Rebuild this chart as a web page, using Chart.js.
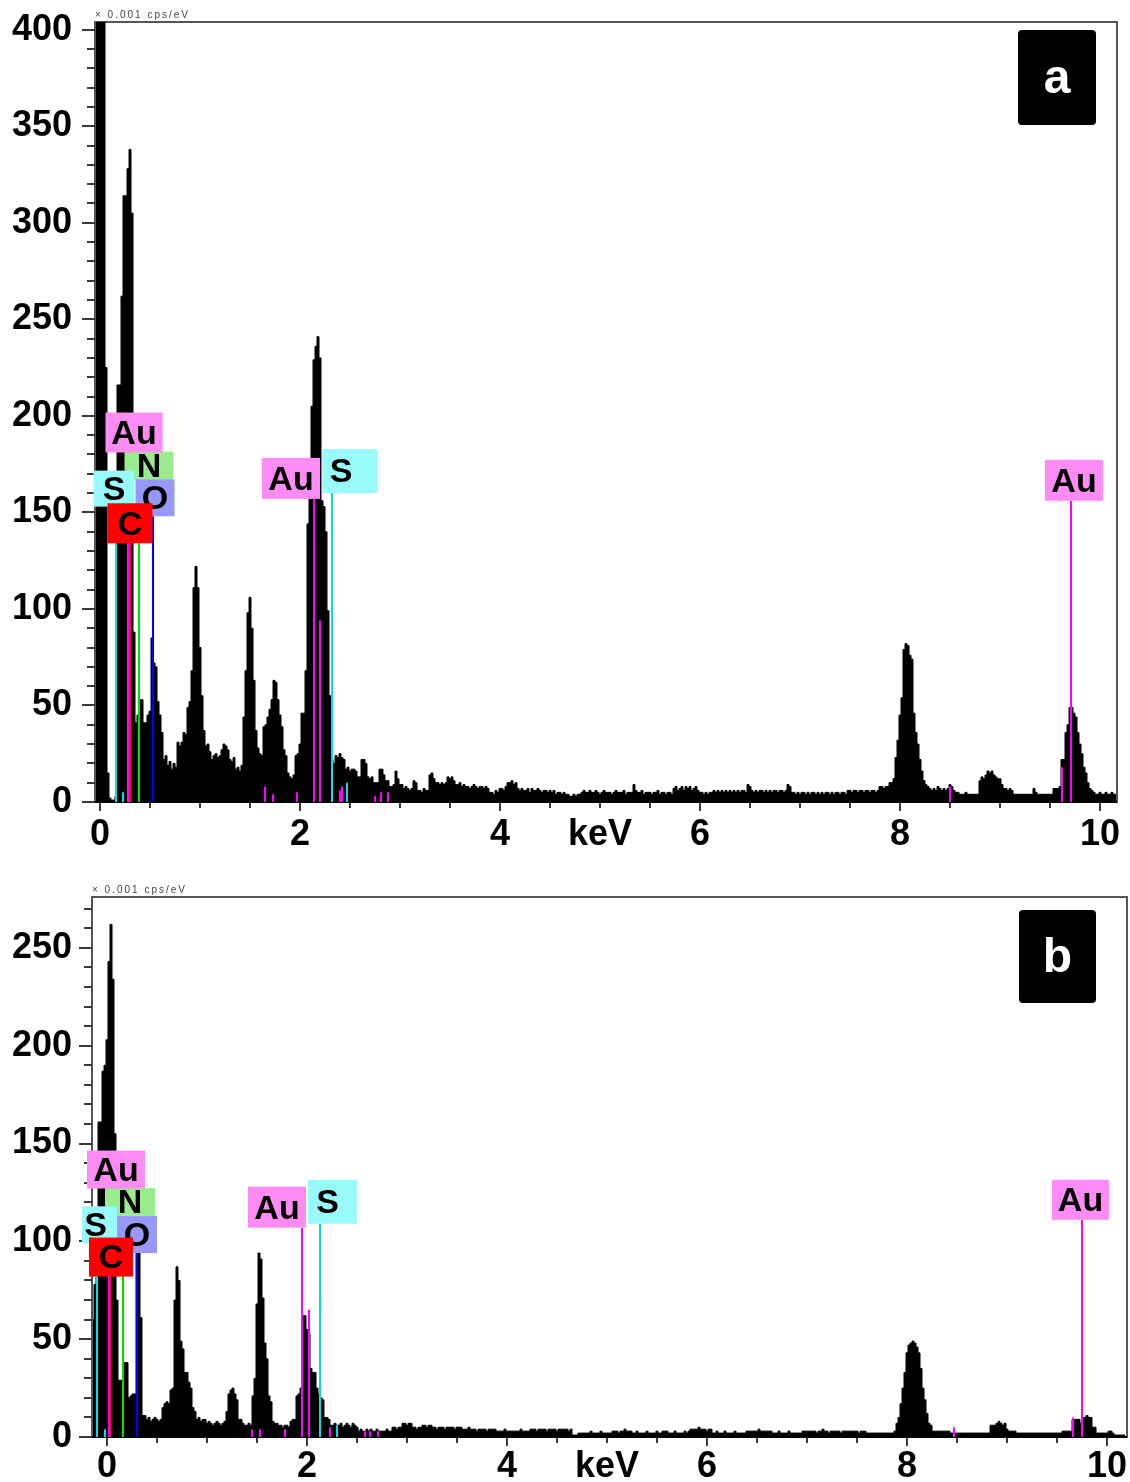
<!DOCTYPE html>
<html>
<head>
<meta charset="utf-8">
<title>EDS spectra</title>
<script src="https://cdn.jsdelivr.net/npm/chart.js@4.4.1/dist/chart.umd.min.js"></script>
<style>
  body { margin: 0; background: #fff; }
  .panel { position: absolute; left: 0; width: 1130px; }
  #panelA { top: 0; height: 870px; }
  #panelB { top: 870px; height: 612px; }
</style>
</head>
<body>
<div class="panel" id="panelA"><canvas id="chartA" width="1130" height="870"></canvas></div>
<div class="panel" id="panelB"><canvas id="chartB" width="1130" height="612"></canvas></div>
<script>
// both spectra are binned at 20 eV per channel
const CHANNEL = 0.02;

// spectrum a, counts in units of 0.001 cps/eV, first channel at -0.04 keV
const startA = -0.04;
const countsA = [
  420, 420, 420, 420, 420, 225, 15, 2, 1, 1,
  3, 216, 216, 262, 314, 314, 328, 338, 305, 88,
  41, 45, 53, 53, 41, 41, 45, 47, 85, 72,
  70, 52, 45, 36, 22, 24, 19, 21, 17, 20,
  18, 31, 29, 31, 36, 35, 49, 52, 68, 111,
  122, 111, 80, 55, 37, 29, 30, 26, 22, 24,
  25, 23, 24, 27, 30, 29, 27, 22, 21, 23,
  17, 18, 16, 19, 44, 68, 98, 106, 90, 63,
  37, 28, 25, 24, 39, 40, 44, 48, 53, 63,
  62, 53, 45, 39, 27, 24, 15, 13, 12, 14,
  24, 25, 30, 46, 46, 68, 144, 160, 205, 229,
  236, 241, 230, 156, 153, 140, 99, 55, 22, 20,
  24, 23, 25, 23, 22, 17, 18, 16, 17, 17,
  16, 13, 13, 22, 22, 20, 13, 12, 13, 10,
  10, 10, 17, 17, 14, 11, 11, 8, 8, 9,
  16, 12, 9, 9, 7, 8, 7, 6, 7, 11,
  10, 6, 6, 5, 7, 6, 6, 14, 15, 12,
  10, 10, 9, 10, 9, 10, 13, 12, 13, 11,
  9, 9, 10, 8, 9, 8, 8, 7, 8, 9,
  8, 7, 8, 8, 7, 8, 7, 5, 5, 4,
  6, 5, 7, 7, 6, 8, 10, 10, 11, 9,
  10, 7, 6, 7, 6, 6, 7, 5, 7, 6,
  6, 7, 6, 5, 6, 6, 5, 6, 5, 6,
  4, 5, 5, 4, 5, 4, 4, 3, 3, 4,
  3, 4, 4, 5, 6, 5, 5, 6, 5, 5,
  6, 5, 4, 5, 6, 5, 5, 5, 4, 5,
  6, 5, 5, 5, 6, 4, 5, 5, 5, 9,
  6, 5, 5, 6, 4, 5, 5, 5, 4, 5,
  5, 6, 4, 5, 5, 4, 5, 5, 4, 7,
  8, 6, 7, 8, 6, 8, 7, 8, 6, 7,
  8, 6, 5, 5, 4, 5, 4, 5, 5, 6,
  5, 6, 5, 6, 5, 6, 5, 6, 5, 6,
  5, 6, 5, 6, 6, 5, 9, 8, 6, 5,
  6, 5, 6, 6, 5, 6, 5, 6, 5, 6,
  6, 5, 6, 6, 5, 6, 9, 8, 5, 5,
  4, 5, 4, 5, 5, 4, 5, 4, 5, 5,
  4, 5, 4, 5, 4, 5, 5, 4, 5, 4,
  5, 5, 4, 5, 5, 4, 6, 6, 5, 6,
  6, 5, 6, 6, 5, 6, 6, 5, 6, 6,
  5, 6, 8, 8, 7, 8, 8, 10, 10, 12,
  23, 32, 45, 54, 79, 82, 81, 76, 74, 46,
  36, 30, 22, 16, 11, 9, 8, 7, 6, 7,
  6, 8, 7, 6, 7, 6, 7, 9, 8, 6,
  5, 5, 4, 4, 4, 5, 4, 4, 4, 4,
  4, 4, 11, 13, 12, 14, 16, 15, 16, 14,
  13, 12, 12, 9, 7, 7, 6, 7, 6, 4,
  4, 4, 4, 4, 4, 4, 4, 4, 4, 7,
  5, 4, 4, 4, 4, 4, 4, 4, 4, 7,
  7, 7, 8, 22, 22, 36, 40, 49, 49, 46,
  44, 36, 30, 25, 18, 15, 10, 7, 6, 5,
  4, 4, 5, 4, 4, 5, 4, 4, 5, 4, 4
];

// spectrum b, first channel at -0.14 keV
const startB = -0.14;
const countsB = [
  60, 78, 82, 161, 161, 187, 190, 203, 243, 262,
  234, 155, 70, 29, 29, 20, 38, 38, 20, 21,
  22, 22, 94, 94, 61, 11, 11, 9, 10, 8,
  9, 10, 9, 8, 9, 15, 17, 18, 17, 24,
  25, 70, 87, 80, 49, 45, 33, 33, 28, 25,
  15, 13, 9, 10, 8, 9, 9, 7, 8, 7,
  6, 7, 8, 7, 6, 7, 8, 13, 22, 24,
  25, 22, 19, 9, 9, 7, 6, 6, 7, 6,
  21, 30, 68, 94, 91, 71, 48, 40, 21, 18,
  8, 7, 7, 6, 6, 5, 6, 6, 5, 8,
  9, 9, 21, 22, 25, 62, 62, 55, 53, 35,
  33, 33, 25, 22, 20, 19, 10, 10, 9, 6,
  6, 7, 6, 6, 7, 5, 6, 7, 6, 5,
  7, 6, 5, 3, 4, 3, 3, 4, 3, 4,
  3, 3, 4, 3, 3, 3, 3, 4, 3, 3,
  5, 5, 4, 5, 5, 7, 7, 6, 7, 7,
  5, 5, 4, 5, 5, 6, 6, 5, 6, 6,
  5, 5, 4, 5, 5, 5, 4, 5, 5, 5,
  5, 4, 5, 5, 5, 4, 4, 4, 5, 4,
  4, 4, 3, 4, 4, 4, 4, 3, 4, 4,
  4, 4, 3, 3, 3, 3, 4, 3, 3, 3,
  3, 3, 3, 3, 4, 3, 3, 3, 3, 4,
  4, 4, 3, 4, 4, 4, 4, 3, 4, 4,
  4, 4, 3, 4, 4, 4, 4, 4, 3, 4,
  1, 1, 1, 2, 2, 2, 2, 2, 2, 3,
  2, 2, 2, 2, 3, 2, 2, 2, 2, 2,
  3, 3, 3, 2, 3, 3, 4, 3, 3, 3,
  2, 2, 3, 2, 2, 2, 2, 3, 2, 2,
  2, 2, 3, 2, 2, 3, 3, 3, 2, 2,
  2, 3, 2, 2, 2, 2, 3, 2, 3, 4,
  4, 4, 4, 5, 4, 4, 4, 3, 4, 4,
  2, 2, 3, 2, 2, 2, 3, 2, 2, 2,
  2, 3, 2, 2, 2, 2, 2, 3, 3, 3,
  3, 3, 3, 4, 3, 3, 3, 3, 3, 3,
  2, 2, 2, 3, 2, 2, 2, 2, 3, 2,
  2, 2, 2, 2, 2, 3, 3, 3, 3, 3,
  3, 3, 2, 3, 3, 4, 3, 3, 2, 3,
  3, 3, 3, 3, 2, 3, 3, 3, 3, 3,
  3, 3, 3, 2, 3, 3, 3, 2, 2, 2,
  2, 2, 2, 2, 2, 2, 2, 2, 2, 2,
  2, 3, 7, 10, 17, 25, 33, 43, 47, 48,
  49, 48, 46, 43, 35, 25, 19, 12, 7, 6,
  3, 3, 3, 3, 3, 3, 3, 3, 3, 2,
  2, 2, 2, 2, 2, 2, 2, 2, 2, 2,
  2, 2, 2, 2, 2, 2, 2, 2, 2, 6,
  6, 6, 7, 8, 7, 6, 7, 4, 3, 3,
  3, 3, 2, 2, 2, 2, 2, 2, 2, 2,
  2, 2, 2, 2, 2, 2, 2, 2, 2, 2,
  2, 2, 2, 2, 2, 3, 3, 3, 3, 3,
  9, 9, 9, 9, 7, 10, 10, 11, 10, 10,
  5, 5, 2, 2, 2, 2, 2, 2, 3, 3,
  2, 1, 1, 1, 1, 1, 1
];

// energy ticks; the one at 5 keV carries the unit
const xTicks = [0, 2, 4, 5, 6, 8, 10];
const X_UNIT_AT = 5;

// element lines: [element, energy keV, line height in counts]
const linesA = [
  ['S', 0.16, 153], ['Au', 0.28, 181], ['C', 0.30, 134], ['N', 0.39, 167], ['O', 0.53, 148],
  ['Au', 2.14, 157], ['Au', 2.20, 94], ['S', 2.32, 160], ['Au', 9.71, 156],
  ['Au', 9.62, 18], ['Au', 8.50, 8], ['S', 0.23, 5], ['S', 2.47, 10],
  ['Au', 1.65, 8], ['Au', 1.73, 4], ['Au', 1.97, 5], ['Au', 2.40, 6], ['Au', 2.42, 8],
  ['Au', 2.75, 3], ['Au', 2.81, 5], ['Au', 2.88, 5]
];
const linesB = [
  ['S', -0.10, 99], ['Au', 0.02, 127], ['C', 0.03, 82], ['N', 0.16, 113], ['O', 0.30, 94],
  ['Au', 1.95, 107], ['Au', 2.02, 65], ['S', 2.13, 109], ['Au', 9.75, 111],
  ['Au', 9.66, 10], ['Au', 8.47, 5], ['S', 2.30, 6], ['S', -0.02, 4],
  ['Au', 1.45, 4], ['Au', 1.53, 4], ['Au', 1.78, 4], ['Au', 2.23, 5],
  ['Au', 2.58, 3], ['Au', 2.63, 3], ['Au', 2.71, 3]
];

// label boxes sit on top of their line: i = line index, dx = box centre offset,
// w/h = box size, tx = text offset inside the box (all px). Drawn in this order.
const labelsA = [
  { i: 3, dx: 10, w: 49, h: 28 },
  { i: 4, dx: 2, w: 39, h: 37 },
  { i: 0, dx: -2, w: 41, h: 36 },
  { i: 1, dx: 6, w: 57, h: 40 },
  { i: 2, dx: 0, w: 45, h: 40 },
  { i: 5, dx: -23, w: 58, h: 41 },
  { i: 7, dx: 18, w: 55, h: 44, tx: -9 },
  { i: 8, dx: 3, w: 58, h: 41 }
];
const labelsB = [
  { i: 3, dx: 7, w: 50, h: 28 },
  { i: 4, dx: 0, w: 40, h: 37 },
  { i: 0, dx: 2.5, w: 35, h: 37, tx: -4 },
  { i: 1, dx: 7, w: 58, h: 38 },
  { i: 2, dx: 1, w: 44, h: 39 },
  { i: 5, dx: -25, w: 58, h: 41 },
  { i: 7, dx: 12.5, w: 49, h: 44, tx: -5 },
  { i: 8, dx: -1.5, w: 57, h: 40 }
];

const lineColor = { Au: '#ff00ff', S: '#00e0e6', N: '#00e000', O: '#0000ff', C: '#ff0040' };
const boxColor = { Au: '#ff8cf5', S: '#98fafa', N: '#98ec8c', O: '#9898f8', C: '#ff0000' };

const FONT = '"Liberation Sans", Arial, sans-serif';

function toPoints(start, counts) {
  return counts.map((c, i) => ({ x: +(start + i * CHANNEL).toFixed(2), y: c }));
}

// frame, tick marks, element lines, label boxes and panel letter
function makeDecor(lines, labels, panel) {
  return {
    id: 'spectrumDecor',
    beforeDatasetsDraw(chart) {
      const { ctx, chartArea: a, scales: { x, y } } = chart;
      ctx.save();
      ctx.strokeStyle = '#555';
      ctx.lineWidth = 2;
      ctx.strokeRect(a.left, a.top, a.right - a.left, a.bottom - a.top);

      ctx.strokeStyle = '#3a3a3a';
      y.ticks.forEach(t => {
        const py = Math.round(y.getPixelForValue(t.value));
        const len = t.value % 50 === 0 ? 13 : 8;
        ctx.beginPath();
        ctx.moveTo(a.left - len, py);
        ctx.lineTo(a.left, py);
        ctx.stroke();
      });
      for (let k = 0; k * 0.5 <= x.max; k++) {
        const px = Math.round(x.getPixelForValue(k * 0.5));
        const len = k % 4 === 0 ? 9 : 6;
        ctx.beginPath();
        ctx.moveTo(px, a.bottom);
        ctx.lineTo(px, a.bottom + len);
        ctx.stroke();
      }

      ctx.font = '10px ' + FONT;
      ctx.letterSpacing = '2px';
      ctx.fillStyle = '#444';
      ctx.textBaseline = 'bottom';
      ctx.textAlign = 'left';
      ctx.fillText('× 0.001 cps/eV', a.left, a.top - 2);
      ctx.restore();
    },
    afterDatasetsDraw(chart) {
      const { ctx, chartArea: a, scales: { x, y } } = chart;
      ctx.save();
      ctx.strokeStyle = '#000';
      ctx.lineWidth = 2;
      ctx.beginPath();
      ctx.moveTo(a.left, a.bottom);
      ctx.lineTo(a.right, a.bottom);
      ctx.stroke();

      const base = y.getPixelForValue(0);
      lines.forEach(([el, e, h]) => {
        const px = Math.round(x.getPixelForValue(e));
        ctx.strokeStyle = lineColor[el];
        ctx.beginPath();
        ctx.moveTo(px, base);
        ctx.lineTo(px, y.getPixelForValue(h));
        ctx.stroke();
      });

      ctx.font = 'bold 34px ' + FONT;
      ctx.textAlign = 'center';
      ctx.textBaseline = 'middle';
      labels.forEach(lb => {
        const [el, e, h] = lines[lb.i];
        const cx = x.getPixelForValue(e) + lb.dx;
        const bottom = y.getPixelForValue(h);
        ctx.fillStyle = boxColor[el];
        ctx.fillRect(cx - lb.w / 2, bottom - lb.h, lb.w, lb.h);
        ctx.fillStyle = '#000';
        ctx.fillText(el, cx + (lb.tx || 0), bottom - lb.h / 2 + 2);
      });

      const bx = a.right - panel.right - panel.w;
      const by = a.top + panel.top;
      ctx.fillStyle = '#000';
      ctx.beginPath();
      ctx.roundRect(bx, by, panel.w, panel.h, 4);
      ctx.fill();
      ctx.fillStyle = '#fff';
      ctx.font = 'bold 48px ' + FONT;
      ctx.fillText(panel.letter, bx + panel.w / 2, by + panel.h / 2 + 2);
      ctx.restore();
    }
  };
}

function makeChart(id, start, counts, lines, labels, ext, panel) {
  return new Chart(document.getElementById(id), {
    type: 'line',
    data: {
      datasets: [{
        data: toPoints(start, counts),
        stepped: 'middle',
        fill: 'origin',
        backgroundColor: '#000',
        borderColor: '#000',
        borderWidth: 1,
        pointRadius: 0
      }]
    },
    options: {
      responsive: false,
      animation: false,
      events: [],
      layout: { padding: { left: 0, top: ext.padTop, right: ext.padRight, bottom: 0 } },
      plugins: { legend: { display: false }, tooltip: { enabled: false } },
      scales: {
        x: {
          type: 'linear',
          min: ext.xMin,
          max: ext.xMax,
          grid: { display: false, drawTicks: false },
          border: { display: false },
          afterBuildTicks: s => { s.ticks = xTicks.map(v => ({ value: v })); },
          afterFit: s => {
            s.height = ext.xHeight;
            s.paddingLeft = 0;
            s.paddingRight = 0;
          },
          ticks: {
            autoSkip: false,
            maxRotation: 0,
            padding: ext.xPad,
            color: '#000',
            font: { family: FONT, size: 36, weight: 'bold' },
            callback: v => (v === X_UNIT_AT ? 'keV' : String(v))
          }
        },
        y: {
          min: 0,
          max: ext.yMax,
          grid: { display: false, drawTicks: false },
          border: { display: false },
          afterFit: s => {
            s.width = ext.yWidth;
            s.paddingTop = 0;
            s.paddingBottom = 0;
          },
          ticks: {
            stepSize: 10,
            includeBounds: false,
            autoSkip: false,
            padding: ext.yPad,
            color: '#000',
            font: { family: FONT, size: 36, weight: 'bold' },
            callback: v => (v % 50 === 0 ? String(v) : '')
          }
        }
      }
    },
    plugins: [makeDecor(lines, labels, panel)]
  });
}

makeChart('chartA', startA, countsA, linesA, labelsA,
  { xMin: -0.05, xMax: 10.17, yMax: 404, padTop: 22, padRight: 13, xHeight: 68, yWidth: 95, xPad: 11, yPad: 23 },
  { letter: 'a', right: 21, top: 8, w: 78, h: 95 });

makeChart('chartB', startB, countsB, linesB, labelsB,
  { xMin: -0.15, xMax: 10.20, yMax: 276, padTop: 27, padRight: 3, xHeight: 45, yWidth: 92, xPad: 8, yPad: 20 },
  { letter: 'b', right: 31, top: 13, w: 77, h: 93 });
</script>
</body>
</html>
